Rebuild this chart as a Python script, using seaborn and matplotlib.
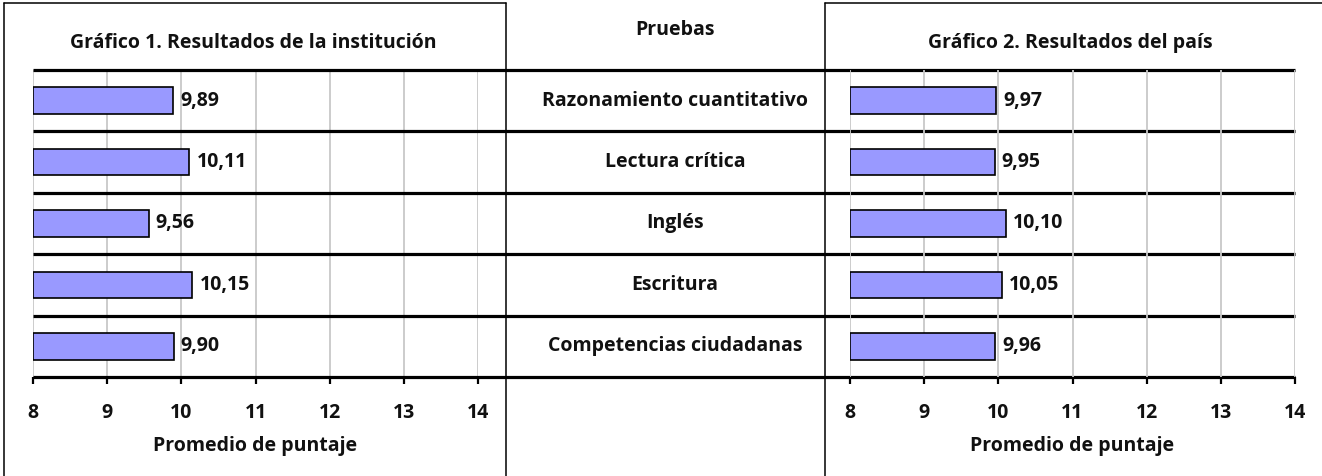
import numpy as np
import pandas as pd
import matplotlib
matplotlib.use('Agg')
import matplotlib.pyplot as plt
import matplotlib.transforms as mtransforms
from matplotlib.lines import Line2D
import seaborn as sns

# Datos del gráfico
pruebas = ['Razonamiento cuantitativo', 'Lectura crítica', 'Inglés',
           'Escritura', 'Competencias ciudadanas']
institucion = [9.89, 10.11, 9.56, 10.15, 9.90]
pais = [9.97, 9.95, 10.10, 10.05, 9.96]
ticks_x = [8, 9, 10, 11, 12, 13, 14]

titulo_1 = 'Gráfico 1. Resultados de la institución'
titulo_2 = 'Gráfico 2. Resultados del país'
titulo_centro = 'Pruebas'
etiqueta_x = 'Promedio de puntaje'

sns.set_theme(style='white')
plt.rcParams['font.family'] = ['Open Sans', 'DejaVu Sans']
plt.rcParams['font.weight'] = 'bold'

W, H = 1322, 476
fig = plt.figure(figsize=(W / 100, H / 100), dpi=100)

def px(x0, y0, x1, y1):
    # caja en pixeles -> fraccion de figura
    return [x0 / W, 1 - y1 / H, (x1 - x0) / W, (y1 - y0) / H]

ax1 = fig.add_axes(px(33, 70, 478, 377))
ax2 = fig.add_axes(px(850, 70, 1295, 377))

df = pd.DataFrame({'prueba': pruebas, 'institucion': institucion, 'pais': pais})

FS = 14
for ax, col in [(ax1, 'institucion'), (ax2, 'pais')]:
    sns.barplot(data=df, x=col, y='prueba', orient='h', ax=ax, color='#9999FF',
                saturation=1, edgecolor='black', linewidth=1.2, width=0.43, zorder=3)
    # las barras empiezan en 8
    for p in ax.patches:
        w = p.get_x() + p.get_width()
        p.set_x(ticks_x[0])
        p.set_width(w - ticks_x[0])
    ax.bar_label(ax.containers[0],
                 labels=[f'{v:.2f}'.replace('.', ',') for v in df[col]],
                 padding=5, fontsize=FS, fontweight='bold', color='#111111')
    ax.set_xlim(ticks_x[0], ticks_x[-1])
    ax.set_ylim(len(pruebas) - 0.5, -0.5)
    ax.set_xticks(ticks_x)
    ax.set_xticklabels([str(t) for t in ticks_x])
    ax.set_yticks([])
    ax.set_ylabel('')
    ax.set_xlabel(etiqueta_x, fontsize=FS, fontweight='bold', labelpad=9,
                  color='#111111')
    ax.grid(axis='x', color='#C8C8C8', linewidth=1.3, zorder=0)
    ax.set_axisbelow(True)
    for s in ['top', 'left', 'right', 'bottom']:
        ax.spines[s].set_visible(False)
    ax.tick_params(axis='x', direction='out', length=5, width=1.6, color='black',
                   pad=14, bottom=True, labelsize=FS, labelcolor='#111111')
    for t in ax.get_xticklabels():
        t.set_fontweight('bold')
    ax.patch.set_alpha(0)

# lineas separadoras que cruzan los tres paneles
pos1 = ax1.get_position()
pos2 = ax2.get_position()
x_fin = (pos2.x1 - pos1.x0) / pos1.width
trans = mtransforms.blended_transform_factory(ax1.transAxes, ax1.transData)
for b in np.arange(-0.5, len(pruebas), 1.0):
    ax1.plot([0, x_fin], [b, b], color='black', linewidth=2.3, transform=trans,
             clip_on=False, zorder=5, solid_capstyle='butt')

# nombres de las pruebas en el centro
x_centro = (675 / W - pos1.x0) / pos1.width
for i, nombre in enumerate(pruebas):
    ax1.text(x_centro, i, nombre, transform=trans, ha='center', va='center',
             fontsize=FS, fontweight='bold', color='#111111')

fig.text(253 / W, 1 - 43 / H, titulo_1, ha='center', va='center',
         fontsize=FS, fontweight='bold', color='#111111')
fig.text(675 / W, 1 - 30 / H, titulo_centro, ha='center', va='center',
         fontsize=FS, fontweight='bold', color='#111111')
fig.text(1070 / W, 1 - 43 / H, titulo_2, ha='center', va='center',
         fontsize=FS, fontweight='bold', color='#111111')

# marcos de los graficos
def linea(x0, y0, x1, y1):
    fig.add_artist(Line2D([x0 / W, x1 / W], [1 - y0 / H, 1 - y1 / H],
                          color='black', linewidth=1.1, transform=fig.transFigure))

linea(4, 3, 506, 3)
linea(4, 3, 4, 476)
linea(506, 3, 506, 476)
linea(825, 3, 1322, 3)
linea(825, 3, 825, 476)

fig.savefig('out.png', dpi=100, facecolor='white')
